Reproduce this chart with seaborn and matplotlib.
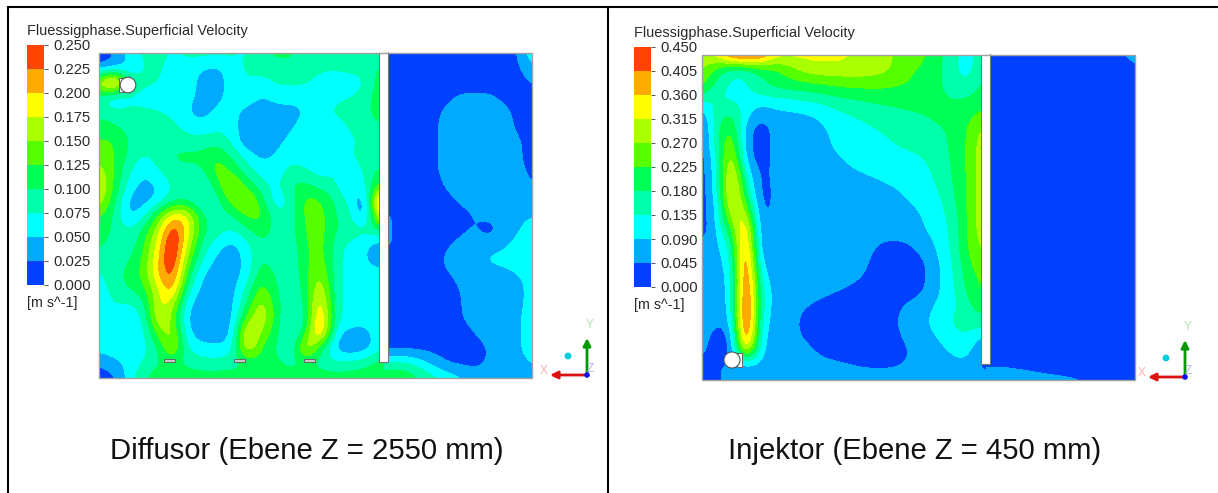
import numpy as np
import seaborn as sns
import matplotlib
matplotlib.use("Agg")
import matplotlib.pyplot as plt
from matplotlib.colors import BoundaryNorm, ListedColormap
from matplotlib.patches import Circle, Rectangle

# velocities in mm/s (rows top to bottom)
diffusor_links = [
    [5, 25, 60, 80, 85, 70, 85, 85, 85, 80, 70, 90, 110, 110, 85, 85, 85, 85, 85, 85],
    [25, 30, 50, 75, 80, 65, 60, 50, 42, 65, 80, 85, 85, 85, 85, 80, 80, 85, 85, 105],
    [170, 280, 100, 80, 75, 70, 65, 40, 38, 60, 75, 65, 80, 80, 80, 65, 60, 60, 70, 115],
    [85, 35, 70, 65, 70, 70, 60, 40, 38, 65, 70, 45, 60, 60, 60, 65, 70, 75, 85, 120],
    [95, 85, 80, 80, 75, 70, 50, 35, 60, 62, 38, 35, 40, 38, 50, 70, 80, 85, 90, 115],
    [110, 105, 90, 85, 85, 85, 65, 60, 70, 65, 30, 22, 35, 45, 65, 70, 60, 80, 90, 95],
    [130, 130, 100, 85, 85, 90, 85, 85, 90, 75, 25, 30, 40, 60, 70, 60, 55, 65, 85, 90],
    [135, 130, 95, 70, 85, 105, 110, 110, 130, 95, 70, 40, 55, 70, 60, 55, 58, 75, 90, 85],
    [170, 125, 80, 50, 75, 90, 90, 90, 145, 125, 85, 65, 60, 85, 80, 60, 75, 40, 85, 105],
    [185, 125, 65, 38, 48, 80, 85, 65, 115, 170, 120, 85, 65, 105, 110, 90, 85, 35, 70, 135],
    [175, 110, 40, 35, 55, 90, 95, 65, 85, 140, 175, 115, 50, 80, 140, 130, 95, 75, 10, 260],
    [130, 100, 38, 65, 130, 200, 190, 100, 85, 95, 130, 140, 80, 85, 135, 140, 100, 85, 10, 210],
    [120, 95, 75, 105, 165, 260, 190, 105, 90, 70, 95, 115, 90, 85, 130, 140, 100, 95, 85, 100],
    [110, 85, 80, 120, 185, 275, 170, 90, 60, 38, 65, 100, 85, 80, 125, 140, 90, 65, 55, 30],
    [85, 75, 100, 125, 200, 270, 140, 75, 40, 35, 55, 105, 85, 80, 120, 145, 85, 65, 55, 30],
    [70, 90, 110, 130, 205, 250, 115, 45, 38, 38, 55, 125, 95, 80, 115, 165, 85, 65, 60, 65],
    [60, 85, 100, 115, 170, 230, 80, 40, 38, 38, 80, 145, 100, 80, 105, 190, 80, 65, 70, 75],
    [60, 75, 70, 85, 185, 170, 50, 35, 38, 38, 100, 175, 110, 75, 100, 215, 80, 65, 65, 75],
    [65, 75, 55, 70, 185, 150, 38, 35, 35, 35, 145, 180, 115, 60, 85, 240, 80, 65, 60, 70],
    [70, 70, 55, 60, 140, 170, 50, 35, 35, 40, 210, 145, 110, 60, 120, 240, 55, 38, 38, 65],
    [60, 70, 60, 65, 95, 175, 70, 60, 55, 60, 190, 120, 100, 60, 200, 100, 38, 28, 32, 70],
    [25, 40, 60, 75, 100, 100, 95, 85, 85, 90, 100, 115, 110, 90, 95, 90, 80, 85, 95, 115],
    [15, 15, 60, 100, 115, 115, 115, 115, 115, 115, 100, 115, 115, 115, 115, 115, 115, 115, 115, 115],
]
diffusor_rechts = [
    [15, 15, 15, 15, 15, 15, 15, 15, 15, 22, 80],
    [15, 15, 15, 15, 15, 15, 15, 15, 15, 20, 45],
    [15, 15, 15, 15, 15, 15, 15, 15, 15, 15, 28],
    [15, 15, 15, 15, 20, 30, 30, 30, 20, 15, 15],
    [15, 15, 15, 18, 30, 35, 35, 35, 33, 18, 15],
    [15, 15, 15, 20, 32, 35, 35, 35, 32, 22, 15],
    [15, 15, 15, 20, 32, 35, 35, 35, 32, 28, 18],
    [15, 15, 15, 20, 32, 35, 35, 35, 32, 28, 18],
    [15, 15, 15, 20, 32, 35, 35, 35, 32, 30, 20],
    [15, 15, 15, 15, 28, 32, 32, 32, 32, 32, 26],
    [15, 15, 15, 15, 20, 28, 32, 35, 35, 35, 35],
    [30, 15, 15, 15, 15, 20, 25, 33, 38, 45, 50],
    [30, 15, 15, 15, 15, 20, 28, 10, 35, 48, 62],
    [30, 15, 15, 15, 22, 32, 38, 42, 45, 60, 70],
    [15, 15, 15, 15, 30, 38, 45, 55, 60, 70, 75],
    [15, 15, 15, 15, 22, 32, 38, 40, 40, 50, 60],
    [15, 15, 15, 15, 15, 26, 34, 35, 10, 45, 60],
    [15, 15, 15, 15, 15, 25, 32, 36, 36, 45, 60],
    [15, 15, 15, 15, 15, 25, 30, 36, 38, 48, 60],
    [15, 15, 15, 15, 15, 18, 26, 32, 38, 48, 60],
    [15, 15, 15, 15, 15, 12, 18, 26, 38, 48, 60],
    [80, 85, 70, 45, 22, 18, 18, 28, 38, 42, 55],
    [125, 125, 105, 88, 72, 55, 38, 35, 30, 25, 35],
]
injektor_links = [
    [300, 340, 450, 480, 450, 340, 330, 330, 330, 330, 320, 290, 290, 270, 250, 240, 190, 165, 100, 170],
    [280, 200, 140, 140, 190, 210, 250, 290, 300, 300, 300, 300, 290, 270, 230, 220, 190, 155, 100, 180],
    [250, 170, 120, 130, 170, 200, 210, 215, 225, 235, 240, 240, 240, 235, 225, 210, 190, 160, 140, 190],
    [150, 125, 125, 120, 120, 125, 130, 140, 150, 165, 175, 185, 190, 190, 195, 200, 190, 180, 185, 200],
    [55, 170, 190, 110, 50, 75, 78, 82, 95, 120, 135, 145, 160, 170, 175, 180, 190, 195, 205, 240],
    [20, 165, 250, 60, 20, 60, 70, 75, 80, 100, 115, 125, 135, 145, 155, 165, 175, 185, 225, 280],
    [20, 170, 300, 50, 20, 60, 70, 70, 75, 95, 105, 115, 125, 135, 145, 150, 165, 185, 225, 300],
    [20, 125, 350, 60, 20, 60, 70, 70, 75, 85, 95, 105, 112, 118, 125, 132, 155, 185, 225, 300],
    [20, 110, 390, 120, 25, 60, 70, 70, 70, 75, 85, 90, 98, 105, 110, 120, 145, 180, 225, 300],
    [20, 110, 400, 170, 15, 60, 70, 70, 70, 70, 72, 75, 80, 88, 98, 110, 135, 175, 225, 300],
    [20, 85, 380, 240, 15, 60, 70, 70, 70, 70, 70, 70, 72, 78, 88, 100, 120, 165, 225, 300],
    [20, 90, 300, 350, 20, 65, 70, 70, 70, 70, 70, 70, 70, 70, 75, 90, 110, 150, 225, 300],
    [20, 80, 210, 430, 25, 70, 70, 70, 70, 70, 70, 70, 65, 65, 70, 85, 105, 145, 225, 300],
    [70, 75, 140, 470, 25, 70, 70, 70, 70, 70, 65, 62, 40, 25, 35, 60, 95, 140, 225, 280],
    [70, 70, 115, 500, 60, 70, 70, 70, 70, 68, 62, 55, 30, 20, 25, 35, 85, 130, 215, 260],
    [70, 70, 90, 510, 100, 70, 70, 70, 70, 66, 62, 45, 25, 15, 15, 30, 80, 125, 200, 240],
    [70, 70, 85, 520, 130, 70, 70, 70, 62, 50, 35, 25, 20, 20, 25, 40, 85, 120, 190, 225],
    [70, 65, 80, 540, 130, 70, 68, 50, 30, 20, 20, 20, 20, 30, 55, 68, 100, 115, 170, 200],
    [70, 50, 70, 540, 110, 70, 68, 25, 20, 15, 15, 15, 20, 35, 70, 80, 110, 140, 160, 170],
    [70, 25, 30, 520, 90, 70, 68, 35, 20, 15, 15, 15, 15, 30, 60, 75, 90, 125, 135, 90],
    [60, 15, 15, 400, 80, 68, 68, 65, 35, 20, 15, 15, 15, 25, 40, 70, 75, 95, 120, 35],
    [25, 45, 50, 60, 70, 70, 70, 70, 65, 60, 50, 40, 38, 38, 50, 70, 70, 75, 75, 35],
    [10, 35, 70, 70, 70, 70, 70, 70, 70, 70, 70, 70, 70, 70, 70, 70, 70, 68, 45, 60],
]
injektor_rechts = [
    [25, 25, 25, 25, 25, 25, 25, 25, 25, 40, 70],
    [25, 25, 25, 25, 25, 25, 25, 25, 25, 25, 30],
    [25, 25, 25, 25, 25, 25, 25, 25, 25, 25, 25],
    [25, 25, 25, 25, 25, 25, 25, 25, 25, 25, 25],
    [25, 25, 25, 25, 25, 25, 25, 25, 25, 25, 25],
    [25, 25, 25, 25, 25, 25, 25, 25, 25, 25, 25],
    [25, 25, 25, 25, 25, 25, 25, 25, 25, 25, 25],
    [25, 25, 25, 25, 25, 25, 25, 25, 25, 25, 25],
    [25, 25, 25, 25, 25, 25, 25, 25, 25, 25, 25],
    [25, 25, 25, 25, 25, 25, 25, 25, 25, 25, 25],
    [25, 25, 25, 25, 25, 25, 25, 25, 25, 25, 25],
    [25, 25, 25, 25, 25, 25, 25, 25, 25, 25, 25],
    [25, 25, 25, 25, 25, 25, 25, 25, 25, 25, 25],
    [25, 25, 25, 25, 25, 25, 25, 25, 25, 25, 25],
    [25, 25, 25, 25, 25, 25, 25, 25, 25, 25, 25],
    [25, 25, 25, 25, 25, 25, 25, 25, 25, 25, 25],
    [25, 25, 25, 25, 25, 25, 25, 25, 25, 25, 25],
    [25, 25, 25, 25, 25, 25, 25, 25, 25, 25, 25],
    [25, 25, 25, 25, 25, 25, 25, 25, 25, 25, 25],
    [25, 25, 25, 25, 25, 25, 25, 25, 25, 25, 25],
    [25, 25, 25, 25, 25, 25, 25, 25, 25, 25, 25],
    [40, 40, 35, 30, 25, 25, 25, 25, 25, 25, 25],
    [70, 70, 68, 65, 60, 55, 50, 42, 35, 30, 25],
]
ticks_diffusor = ["0.000", "0.025", "0.050", "0.075", "0.100", "0.125", "0.150", "0.175", "0.200", "0.225", "0.250"]
ticks_injektor = ["0.000", "0.045", "0.090", "0.135", "0.180", "0.225", "0.270", "0.315", "0.360", "0.405", "0.450"]
titel = "Fluessigphase.Superficial Velocity"
einheit = "[m s^-1]"
caption_diffusor = "Diffusor (Ebene Z = 2550 mm)"
caption_injektor = "Injektor (Ebene Z = 450 mm)"
farben = ["#0040ff", "#00aaff", "#00ffff", "#00ffaa", "#00ff55",
          "#55ff00", "#aaff00", "#ffff00", "#ffaa00", "#ff4400"]

W, H = 1218, 493
sns.set_theme(style="white")
plt.rcParams["font.family"] = ["Liberation Sans", "DejaVu Sans"]
textfarbe = "#2a2a2a"

fig = plt.figure(figsize=(W / 100, H / 100), dpi=100)
ax = fig.add_axes([0, 0, 1, 1])
ax.axis("off")


def kammer(werte, level, x_links, x_rechts, y0, clip_links, clip_rechts):
    z = np.array(werte) / 1000.0
    dx = (x_rechts - x_links) / (z.shape[1] - 1)
    dy = 325 / (z.shape[0] - 1)
    cmap = ListedColormap(farben)
    norm = BoundaryNorm(level, cmap.N, clip=True)
    im = ax.imshow(z, cmap=cmap, norm=norm, aspect="auto", interpolation="bicubic", interpolation_stage="data",
                   extent=(x_links - dx / 2, x_rechts + dx / 2, y0 + 325 + dy / 2, y0 - dy / 2))
    im.set_clip_path(Rectangle((clip_links, y0), clip_rechts - clip_links, 325, transform=ax.transData))


def feld(links, rechts, x0, y0, wand, ticks, legende_x, legende_y):
    level = [float(t) for t in ticks]
    kammer(links, level, x0, x0 + wand, y0, x0, x0 + wand + 4.5)
    kammer(rechts, level, x0 + wand + 9, x0 + 433, y0, x0 + wand + 4.5, x0 + 433)
    # baffle and outline
    ax.add_patch(Rectangle((x0 + wand, y0 - 1), 9, 310, fc="white", ec="#777777", lw=0.8))
    ax.add_patch(Rectangle((x0 + wand, y0 - 1), 9, 2, fc="white", ec="none"))
    ax.add_patch(Rectangle((x0, y0), 433, 325, fc="none", ec="#a0a0a0", lw=1.0))

    # legend strip drawn as a one column heatmap
    cax = fig.add_axes([legende_x / W, 1 - (legende_y + 240) / H, 17 / W, 240 / H])
    strip = np.arange(9, -1, -1).reshape(-1, 1)
    sns.heatmap(strip, ax=cax, cmap=ListedColormap(farben), cbar=False, xticklabels=False, vmin=-0.5, vmax=9.5)
    cax.set_yticks(np.arange(11))
    cax.set_yticklabels(ticks[::-1], rotation=0, fontsize=10.6, color=textfarbe)
    cax.yaxis.tick_right()
    cax.tick_params(axis="y", length=3, width=0.7, color="#555555", pad=4, right=True)
    ax.text(legende_x, legende_y - 13.5, titel, fontsize=10.45, color=textfarbe, va="center", ha="left")
    ax.text(legende_x, legende_y + 258, einheit, fontsize=10.3, color=textfarbe, va="center", ha="left")


def triade(x, y):
    ax.annotate("", xy=(x - 37, y), xytext=(x, y),
                arrowprops=dict(arrowstyle="-|>", color="#dd1111", lw=2, mutation_scale=11, shrinkA=0, shrinkB=0))
    ax.annotate("", xy=(x, y - 37), xytext=(x, y),
                arrowprops=dict(arrowstyle="-|>", color="#009900", lw=2, mutation_scale=11, shrinkA=0, shrinkB=0))
    ax.add_patch(Circle((x, y), 2.8, fc="#1111ee", ec="none", zorder=5))
    ax.add_patch(Circle((x - 19, y - 19), 3.4, fc="#00ccdd", ec="none", zorder=5))
    ax.text(x - 43, y - 4, "X", color="#ffb0b0", fontsize=8.5, ha="center", va="center")
    ax.text(x + 3, y - 50, "Y", color="#b0e0b0", fontsize=8.5, ha="center", va="center")
    ax.text(x + 3, y - 6, "Z", color="#b0b0f0", fontsize=8.5, ha="center", va="center")


feld(diffusor_links, diffusor_rechts, 99, 53, 280, ticks_diffusor, 27, 45)
feld(injektor_links, injektor_rechts, 702, 55, 279, ticks_injektor, 634, 47)
ax.set_xlim(0, W)
ax.set_ylim(H, 0)

# inlet on the diffusor plane
ax.add_patch(Rectangle((119, 78), 5, 14, fc="white", ec="#666666", lw=0.7, zorder=4))
ax.add_patch(Circle((128, 85), 7.8, fc="white", ec="#555555", lw=0.8, zorder=5))
for bar_x in [164, 234, 304]:
    ax.add_patch(Rectangle((bar_x, 359), 11, 3, fc="#c8c8c8", ec="#666666", lw=0.7, zorder=4))
# inlet on the injektor plane
ax.add_patch(Rectangle((737, 353), 5, 14, fc="white", ec="#666666", lw=0.7, zorder=4))
ax.add_patch(Circle((732, 360), 8.0, fc="white", ec="#555555", lw=0.8, zorder=5))

triade(587, 375)
triade(1185, 377)

ax.text(307, 451, caption_diffusor, fontsize=21.1, color="#111111", ha="center", va="center")
ax.text(915, 451, caption_injektor, fontsize=21.1, color="#111111", ha="center", va="center")

# table lines round the two cells
ax.plot([8, W], [7, 7], color="black", lw=1.5, solid_capstyle="butt")
ax.plot([8, 8], [6, H], color="black", lw=1.5, solid_capstyle="butt")
ax.plot([608, 608], [6, H], color="black", lw=1.5, solid_capstyle="butt")

fig.savefig("out.png", dpi=100)
